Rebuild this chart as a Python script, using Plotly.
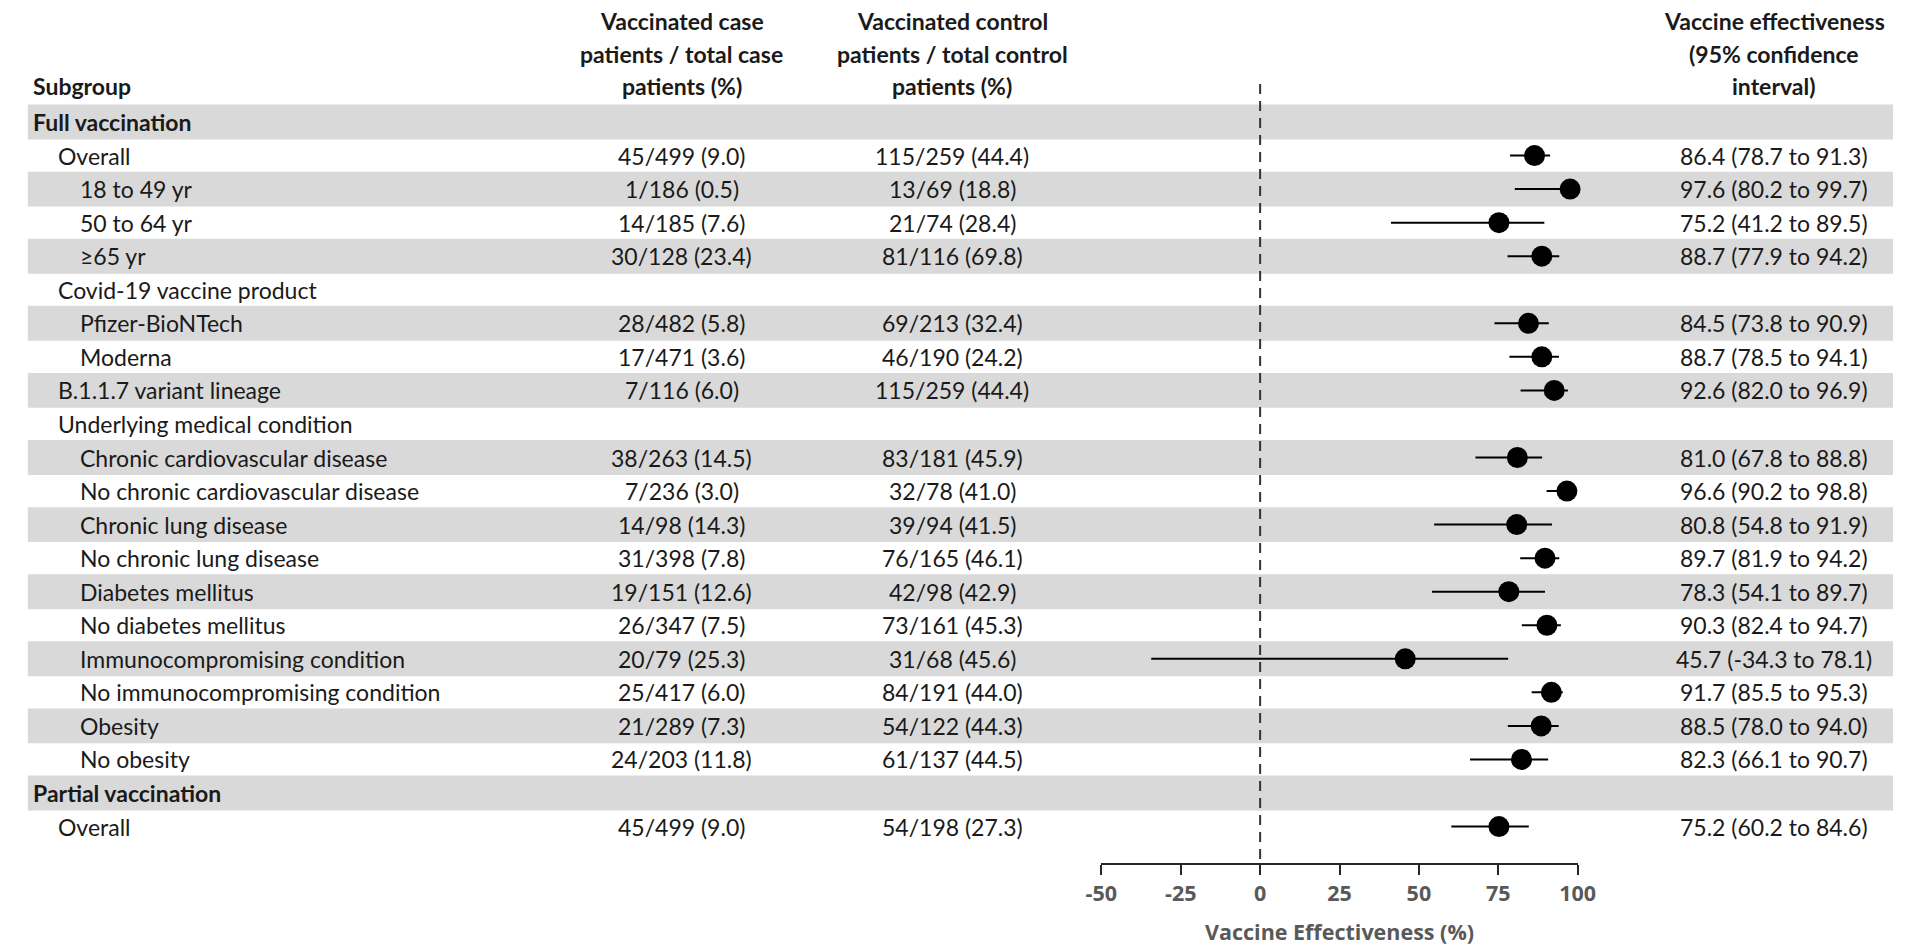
import plotly.graph_objects as go

W, H = 1911, 946

# ---------------- data ----------------
subgroups = [
    "Full vaccination", "Overall", "18 to 49 yr", "50 to 64 yr", "≥65 yr",
    "Covid-19 vaccine product", "Pfizer-BioNTech", "Moderna", "B.1.1.7 variant lineage",
    "Underlying medical condition", "Chronic cardiovascular disease",
    "No chronic cardiovascular disease", "Chronic lung disease", "No chronic lung disease",
    "Diabetes mellitus", "No diabetes mellitus", "Immunocompromising condition",
    "No immunocompromising condition", "Obesity", "No obesity",
    "Partial vaccination", "Overall",
]
levels = [0, 1, 2, 2, 2, 1, 2, 2, 1, 1, 2, 2, 2, 2, 2, 2, 2, 2, 2, 2, 0, 1]
case_col = [
    "", "45/499 (9.0)", "1/186 (0.5)", "14/185 (7.6)", "30/128 (23.4)", "",
    "28/482 (5.8)", "17/471 (3.6)", "7/116 (6.0)", "", "38/263 (14.5)", "7/236 (3.0)",
    "14/98 (14.3)", "31/398 (7.8)", "19/151 (12.6)", "26/347 (7.5)", "20/79 (25.3)",
    "25/417 (6.0)", "21/289 (7.3)", "24/203 (11.8)", "", "45/499 (9.0)",
]
control_col = [
    "", "115/259 (44.4)", "13/69 (18.8)", "21/74 (28.4)", "81/116 (69.8)", "",
    "69/213 (32.4)", "46/190 (24.2)", "115/259 (44.4)", "", "83/181 (45.9)", "32/78 (41.0)",
    "39/94 (41.5)", "76/165 (46.1)", "42/98 (42.9)", "73/161 (45.3)", "31/68 (45.6)",
    "84/191 (44.0)", "54/122 (44.3)", "61/137 (44.5)", "", "54/198 (27.3)",
]
ve = [None, 86.4, 97.6, 75.2, 88.7, None, 84.5, 88.7, 92.6, None, 81.0, 96.6, 80.8, 89.7,
      78.3, 90.3, 45.7, 91.7, 88.5, 82.3, None, 75.2]
ci_low = [None, 78.7, 80.2, 41.2, 77.9, None, 73.8, 78.5, 82.0, None, 67.8, 90.2, 54.8, 81.9,
          54.1, 82.4, -34.3, 85.5, 78.0, 66.1, None, 60.2]
ci_high = [None, 91.3, 99.7, 89.5, 94.2, None, 90.9, 94.1, 96.9, None, 88.8, 98.8, 91.9, 94.2,
           89.7, 94.7, 78.1, 95.3, 94.0, 90.7, None, 84.6]
shaded = [0, 2, 4, 6, 8, 10, 12, 14, 16, 18, 20]
x_ticks = [-50, -25, 0, 25, 50, 75, 100]

headers = {
    "case": ["Vaccinated case", "patients / total case", "patients (%)"],
    "control": ["Vaccinated control", "patients / total control", "patients (%)"],
    "ve": ["Vaccine effectiveness", "(95% confidence", "interval)"],
}

# ---------------- layout geometry (pixels) ----------------
ROW0, ROWH = 122.0, 33.55
def row_of_px(p):
    return (p - ROW0) / ROWH

FONT = "Lato"
AXFONT = "Open Sans"
FS = 23
TXT = "#1a1a1a"
col_x = {"case": 678, "control": 953, "ve": 1790}
indent = {0: 15, 1: 41, 2: 63}
ax_left, ax_right = 1105, 1590
axis_y_px = 864

fig = go.Figure()

rows_with = [i for i, v in enumerate(ve) if v is not None]
fig.add_trace(go.Scatter(
    x=[ve[i] for i in rows_with],
    y=rows_with,
    mode="markers",
    marker=dict(size=21, color="black"),
    error_x=dict(type="data", symmetric=False,
                 array=[ci_high[i] - ve[i] for i in rows_with],
                 arrayminus=[ve[i] - ci_low[i] for i in rows_with],
                 color="black", thickness=2, width=0),
    cliponaxis=False,
    hoverinfo="skip",
    showlegend=False,
))

shapes = []
for r in shaded:
    shapes.append(dict(type="rect", xref="paper", yref="y", x0=12 / W, x1=1.0,
                       y0=r - 0.52, y1=r + 0.52, fillcolor="#d9d9d9",
                       line=dict(width=0), layer="below"))
shapes.append(dict(type="line", xref="x", yref="y", x0=0, x1=0,
                   y0=row_of_px(84), y1=row_of_px(axis_y_px),
                   line=dict(color="#333333", width=2, dash="10px,7px"), layer="above"))

ann = []
def add_text(px, row, text, anchor="center", bold=False, size=FS, color=TXT):
    ann.append(dict(x=px / W, y=row, xref="paper", yref="y", text=("<b>%s</b>" % text) if bold else text,
                    showarrow=False, xanchor=anchor, yanchor="middle",
                    font=dict(family=FONT, size=size, color=color)))

# headers
add_text(indent[0], row_of_px(86), "Subgroup", anchor="left", bold=True)
for key, lines in headers.items():
    for k, line in enumerate(lines):
        add_text(col_x[key], row_of_px([21, 54, 86][k]), line, bold=True)

for i, name in enumerate(subgroups):
    lvl = levels[i]
    add_text(indent[lvl], i, name, anchor="left", bold=(lvl == 0))
    if case_col[i]:
        add_text(col_x["case"], i, case_col[i])
    if control_col[i]:
        add_text(col_x["control"], i, control_col[i])
    if ve[i] is not None:
        add_text(col_x["ve"], i, "%.1f (%.1f to %.1f)" % (ve[i], ci_low[i], ci_high[i]))

fig.update_layout(
    width=W, height=H,
    margin=dict(l=0, r=0, t=0, b=0),
    paper_bgcolor="white", plot_bgcolor="rgba(0,0,0,0)",
    shapes=shapes, annotations=ann,
    xaxis=dict(domain=[ax_left / W, ax_right / W], range=[-50, 100],
               anchor="free", position=(H - axis_y_px) / H,
               showgrid=False, zeroline=False, showline=True, linecolor="#262626", linewidth=2,
               ticks="outside", ticklen=10, tickwidth=2, tickcolor="#262626",
               tickvals=x_ticks, ticktext=["<b>%d</b>" % t for t in x_ticks],
               tickfont=dict(family=AXFONT, size=21.5, color="#595959", weight="bold"),
               title=dict(text="<b>Vaccine Effectiveness (%)</b>", standoff=18,
                          font=dict(family=AXFONT, size=21.5, color="#595959", weight="bold"))),
    yaxis=dict(domain=[0, 1], range=[row_of_px(H), row_of_px(0)], visible=False,
               showgrid=False, zeroline=False),
)

fig.write_html("out.html", config={"displayModeBar": False},
               post_script="document.body.style.margin='0';document.body.style.overflow='hidden';")
